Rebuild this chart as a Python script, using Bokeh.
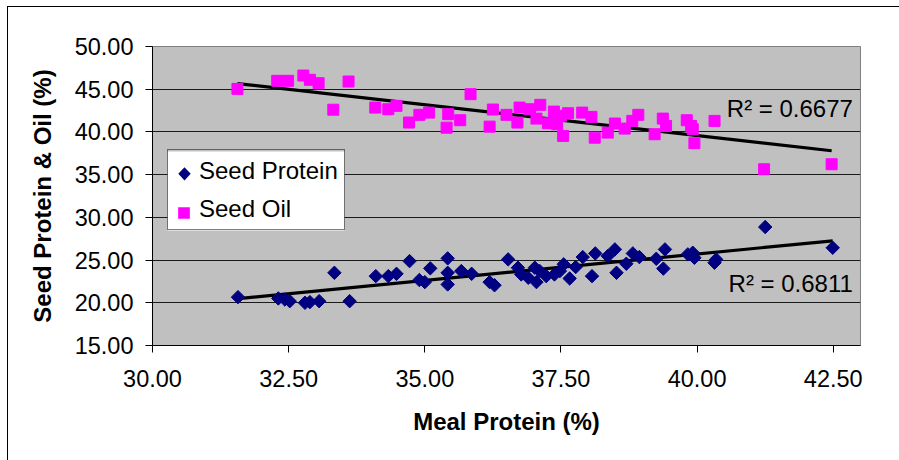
import numpy as np
from bokeh.plotting import figure
from bokeh.models import (Range1d, FixedTicker, NumeralTickFormatter, Legend,
                          LegendItem, Label, BoxAnnotation, PolyAnnotation)
from bokeh.embed import file_html
from bokeh.resources import INLINE

# ---- data ----
oil_x = [31.56, 32.29, 32.49, 32.77, 32.89, 33.05, 33.60, 33.32, 34.09, 34.33,
         34.48, 34.71, 34.90, 35.08, 35.40, 35.43, 35.65, 35.84, 36.19, 36.25,
         36.50, 36.70, 36.74, 36.93, 37.05, 37.12, 37.26, 37.37, 37.43, 37.50,
         37.54, 37.63, 37.89, 38.06, 38.12, 38.36, 38.49, 38.67, 38.81, 38.92,
         39.22, 39.37, 39.43, 39.81, 39.89, 39.92, 39.95, 40.32, 41.23, 42.47]
oil_y = [45.04, 45.98, 45.98, 46.60, 46.10, 45.70, 45.90, 42.60, 42.85, 42.66,
         43.05, 41.10, 42.00, 42.26, 40.50, 42.08, 41.37, 44.42, 40.62, 42.62,
         42.00, 41.10, 42.85, 42.66, 41.56, 43.17, 41.02, 42.38, 40.90, 41.90,
         39.53, 42.19, 42.26, 41.76, 39.33, 39.92, 40.98, 40.39, 41.29, 42.00,
         39.73, 41.56, 40.70, 41.37, 40.70, 40.32, 38.68, 41.29, 35.63, 36.22]

prot_x = [31.57, 32.31, 32.43, 32.52, 32.80, 32.89, 33.06, 33.34, 33.62, 34.10,
          34.33, 34.48, 34.72, 34.90, 35.00, 35.10, 35.42, 35.42, 35.42, 35.67,
          35.86, 36.19, 36.28, 36.53, 36.71, 36.77, 36.90, 37.02, 37.05, 37.11,
          37.23, 37.38, 37.48, 37.55, 37.66, 37.77, 37.90, 38.07, 38.13, 38.36,
          38.49, 38.52, 38.70, 38.82, 38.94, 39.25, 39.38, 39.41, 39.83, 39.92,
          39.95, 40.32, 40.35, 41.25, 42.49]
prot_y = [20.66, 20.51, 20.39, 20.19, 20.00, 20.08, 20.19, 23.51, 20.19, 23.12,
          23.12, 23.39, 24.88, 22.66, 22.42, 24.03, 25.20, 23.51, 22.15, 23.71,
          23.39, 22.42, 22.05, 25.08, 24.10, 23.32, 22.93, 24.10, 22.42, 23.71,
          23.12, 23.32, 23.71, 24.50, 22.85, 24.18, 25.35, 23.12, 25.78, 25.47,
          26.25, 23.51, 24.57, 25.78, 25.35, 25.15, 24.00, 26.25, 25.67, 25.86,
          25.27, 24.69, 25.08, 28.87, 26.44]

x_ticks = [30.0, 32.5, 35.0, 37.5, 40.0, 42.5]
y_ticks = [15.0, 20.0, 25.0, 30.0, 35.0, 40.0, 45.0, 50.0]
r2_oil = "R\u00b2 = 0.6677"
r2_prot = "R\u00b2 = 0.6811"
series_names = ["Seed Protein", "Seed Oil"]

FONT = "Liberation Sans"
NAVY = "#000080"
MAGENTA = "#FF00FF"

X0, X1, Y0, Y1 = 30, 43, 15, 50
W, H = 899, 460
BL, BR, BT, BB = 152, 39, 46, 115
FW, FH = W - BL - BR, H - BT - BB          # frame size in px
def px_to_x(px):                            # px offset from frame left -> data x
    return X0 + px * (X1 - X0) / FW
def px_to_y(py):                            # px offset from frame bottom -> data y
    return Y0 + py * (Y1 - Y0) / FH

p = figure(width=W, height=H, output_backend="svg", toolbar_location=None,
           x_range=Range1d(X0, X1), y_range=Range1d(Y0, Y1),
           min_border_left=BL, min_border_right=BR, min_border_top=BT,
           min_border_bottom=BB)
p.border_fill_color = None
p.styles = {"background": "linear-gradient(#000,#000) 7px 6px / 1px 100% no-repeat, "
                          "linear-gradient(#000,#000) 7px 6px / 100% 1px no-repeat, #ffffff"}
p.background_fill_color = "#C0C0C0"
p.outline_line_color = "#808080"
p.outline_line_width = 1

p.xgrid.visible = False
p.ygrid.grid_line_color = "#1a1a1a"
p.ygrid.grid_line_width = 1

for ax in (p.xaxis[0], p.yaxis[0]):
    ax.axis_line_color = "#000000"
    ax.major_tick_line_color = "#000000"
    ax.major_tick_out = 7
    ax.major_tick_in = 0
    ax.minor_tick_line_color = None
    ax.major_label_text_font = FONT
    ax.major_label_text_font_size = "23.5px"
    ax.major_label_text_color = "#000000"
    ax.axis_label_text_font = FONT
    ax.axis_label_text_font_size = "24px"
    ax.axis_label_text_font_style = "bold"
    ax.axis_label_text_color = "#000000"
    ax.formatter = NumeralTickFormatter(format="0.00")

p.xaxis.ticker = FixedTicker(ticks=x_ticks)
p.yaxis.ticker = FixedTicker(ticks=y_ticks)
p.xaxis.axis_label = "Meal Protein (%)"
p.yaxis.axis_label = "Seed Protein & Oil (%)"
p.xaxis.major_label_standoff = 17
p.xaxis.axis_label_standoff = 18
p.yaxis.major_label_standoff = 12
p.yaxis.axis_label_standoff = 16

# trend lines (least squares over the data)
def trend(xs, ys):
    k, b = np.polyfit(xs, ys, 1)
    x0, x1 = min(xs), max(xs)
    return [x0, x1], [k * x0 + b, k * x1 + b]

tx, ty = trend(oil_x, oil_y)
p.line(tx, ty, line_color="#000000", line_width=3.2)
tx, ty = trend(prot_x, prot_y)
p.line(tx, ty, line_color="#000000", line_width=3.2)

r_prot = p.scatter(prot_x, prot_y, marker="square", size=9.5, angle=np.pi / 4,
                   fill_color=NAVY, line_color=NAVY)
r_oil = p.scatter(oil_x, oil_y, marker="square", size=11,
                  fill_color=MAGENTA, line_color=MAGENTA)
# invisible stand-ins so the legend keeps slots for the keys drawn below
r_key1 = p.scatter([], [], marker="square", size=0, fill_alpha=0, line_alpha=0)
r_key2 = p.scatter([], [], marker="square", size=0, fill_alpha=0, line_alpha=0)

p.add_layout(Label(x=42.86, y=42.7, text=r2_oil, text_align="right",
                   text_baseline="middle", text_font=FONT, text_font_size="24px",
                   text_color="#000000"))
p.add_layout(Label(x=42.86, y=22.2, text=r2_prot, text_align="right",
                   text_baseline="middle", text_font=FONT, text_font_size="24px",
                   text_color="#000000"))

# legend geometry (px, relative to frame bottom-left)
LG_L, LG_B, PAD, GW, GH, STAND, SP = 15, 115, 6, 20, 29, 5, 9
LG_W = 177
LG_H = PAD + GH + SP + GH + PAD

# white legend background drawn underneath (legend itself is transparent)
p.add_layout(BoxAnnotation(left=px_to_x(LG_L), right=px_to_x(LG_L + LG_W),
                           bottom=px_to_y(LG_B), top=px_to_y(LG_B + LG_H),
                           fill_color="#FFFFFF", fill_alpha=1.0, line_color=None,
                           level="annotation"))
# diamond key for "Seed Protein"
dcx, dcy, dhw, dhh = 32, 171.7, 6.2, 6.6
p.add_layout(PolyAnnotation(
    xs=[px_to_x(dcx), px_to_x(dcx + dhw), px_to_x(dcx), px_to_x(dcx - dhw)],
    ys=[px_to_y(dcy + dhh), px_to_y(dcy), px_to_y(dcy - dhh), px_to_y(dcy)],
    fill_color=NAVY, fill_alpha=1.0, line_color=None, level="annotation"))
# square key for "Seed Oil"
scx, scy, sh = 31.5, 132.5, 5.85
p.add_layout(BoxAnnotation(left=px_to_x(scx - sh), right=px_to_x(scx + sh),
                           bottom=px_to_y(scy - sh), top=px_to_y(scy + sh),
                           fill_color=MAGENTA, fill_alpha=1.0, line_color=None,
                           level="annotation"))

legend = Legend(items=[LegendItem(label=series_names[0], renderers=[r_key1]),
                       LegendItem(label=series_names[1], renderers=[r_key2])],
                location=(LG_L, LG_B), orientation="vertical",
                label_text_font=FONT, label_text_font_size="24px",
                label_text_color="#000000",
                glyph_width=GW, glyph_height=GH, label_standoff=STAND,
                label_width=0, label_height=GH, spacing=SP, padding=PAD,
                margin=0,
                border_line_color="#000000", border_line_width=1,
                background_fill_alpha=0.0)
p.add_layout(legend, "center")

open("out.html", "w").write(file_html(p, INLINE))
